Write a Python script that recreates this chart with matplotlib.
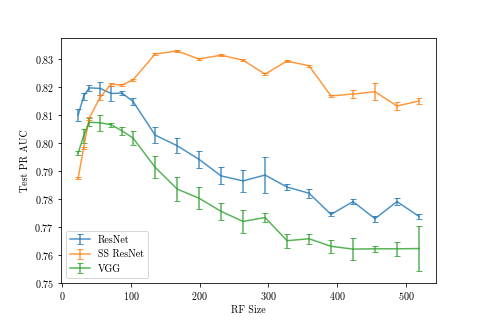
import numpy as np
import matplotlib
matplotlib.use("Agg")
import matplotlib.pyplot as plt

plt.rcParams['font.family'] = 'serif'
plt.rcParams['font.serif'] = ['cmr10']
plt.rcParams['mathtext.fontset'] = 'cm'
plt.rcParams['axes.formatter.use_mathtext'] = True
plt.rcParams['font.size'] = 10

rf_size = [23, 31, 39, 55, 71, 87, 103, 135, 167, 199, 231, 263, 295, 327, 359, 391, 423, 455, 487, 519]

resnet = [0.8100, 0.8167, 0.8197, 0.8195, 0.8177, 0.8178, 0.8148, 0.8028, 0.7990, 0.7941,
          0.7882, 0.7864, 0.7885, 0.7842, 0.7820, 0.7744, 0.7790, 0.7729, 0.7790, 0.7737]
resnet_err = [0.0022, 0.0012, 0.0010, 0.0024, 0.0026, 0.0008, 0.0011, 0.0030, 0.0026, 0.0031,
              0.0030, 0.0040, 0.0065, 0.0011, 0.0016, 0.0007, 0.0009, 0.0011, 0.0013, 0.0009]

ss_resnet = [0.7874, 0.7983, 0.8088, 0.8163, 0.8210, 0.8207, 0.8226, 0.8318, 0.8329, 0.8300,
             0.8314, 0.8296, 0.8246, 0.8293, 0.8276, 0.8168, 0.8175, 0.8183, 0.8132, 0.8150]
ss_resnet_err = [0.0003, 0.0004, 0.0005, 0.0010, 0.0005, 0.0003, 0.0003, 0.0003, 0.0003, 0.0003,
                 0.0003, 0.0003, 0.0003, 0.0003, 0.0003, 0.0005, 0.0015, 0.0030, 0.0016, 0.0012]

vgg = [0.7964, 0.8025, 0.8074, 0.8072, 0.8065, 0.8043, 0.8017, 0.7913, 0.7835, 0.7802,
       0.7755, 0.7719, 0.7733, 0.7650, 0.7657, 0.7630, 0.7620, 0.7621, 0.7621, 0.7622]
vgg_err = [0.0008, 0.0025, 0.0015, 0.0028, 0.0008, 0.0015, 0.0025, 0.0039, 0.0044, 0.0039,
           0.0031, 0.0042, 0.0016, 0.0025, 0.0018, 0.0024, 0.0039, 0.0010, 0.0024, 0.0080]

fig = plt.figure(figsize=(485 / 72, 323 / 72), dpi=72)
ax = fig.add_axes([0.126, 0.125, 0.773, 0.757])

ax.errorbar(rf_size, resnet, yerr=resnet_err, capsize=3, alpha=0.8, label='ResNet')
ax.errorbar(rf_size, ss_resnet, yerr=ss_resnet_err, capsize=3, alpha=0.8, label='SS ResNet')
ax.errorbar(rf_size, vgg, yerr=vgg_err, capsize=3, alpha=0.8, label='VGG')

ax.set_xlabel('RF Size')
ax.set_ylabel('Test PR AUC')
ax.set_ylim(0.75, 0.8375)
ax.set_xticks([0, 100, 200, 300, 400, 500])
ax.set_yticks(np.arange(0.75, 0.835, 0.01))
ax.legend(loc='lower left')

fig.savefig('out.png', dpi=72)
